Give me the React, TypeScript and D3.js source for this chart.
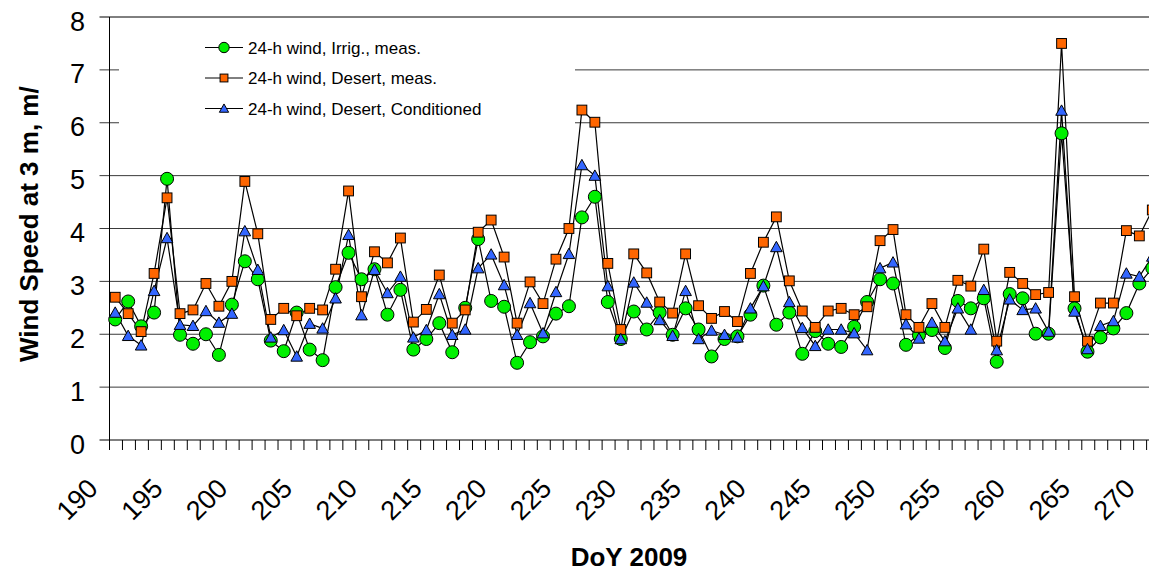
import React from 'react';
import * as d3 from 'd3';

const W = 1149;
const H = 573;

// DoY of the first 24-h value; one value per day
const firstDay = 190;
const pointOffset = 0.44;

const irrigMeas = [
  2.28, 2.62, 2.15, 2.41, 4.94, 1.99, 1.82, 2.0, 1.61, 2.56,
  3.38, 3.04, 1.88, 1.68, 2.41, 1.71, 1.51, 2.89, 3.54, 3.04,
  3.23, 2.37, 2.84, 1.71, 1.91, 2.21, 1.66, 2.5, 3.8, 2.63,
  2.52, 1.46, 1.85, 1.96, 2.39, 2.53, 4.21, 4.6, 2.61, 1.91,
  2.43, 2.09, 2.41, 1.99, 2.49, 2.09, 1.58, 1.91, 1.96, 2.37,
  2.92, 2.18, 2.41, 1.63, 2.06, 1.82, 1.76, 2.14, 2.61, 3.04,
  2.96, 1.8, 1.98, 2.08, 1.74, 2.63, 2.49, 2.68, 1.48, 2.76,
  2.68, 2.01, 2.01, 5.8, 2.49, 1.67, 1.94, 2.11, 2.4, 2.96,
  3.25,
];

const desertMeas = [
  2.7, 2.39, 2.05, 3.15, 4.58, 2.39, 2.46, 2.96, 2.53, 3.0,
  4.89, 3.9, 2.28, 2.49, 2.35, 2.49, 2.46, 3.23, 4.71, 2.71,
  3.56, 3.35, 3.82, 2.23, 2.47, 3.12, 2.21, 2.46, 3.93, 4.16,
  3.46, 2.21, 2.99, 2.58, 3.42, 4.0, 6.24, 6.01, 3.34, 2.09,
  3.52, 3.16, 2.61, 2.4, 3.52, 2.54, 2.3, 2.43, 2.24, 3.15,
  3.74, 4.22, 3.01, 2.44, 2.13, 2.44, 2.49, 2.37, 2.52, 3.77,
  3.98, 2.37, 2.13, 2.58, 2.13, 3.02, 2.91, 3.61, 1.87, 3.17,
  2.96, 2.75, 2.79, 7.5, 2.71, 1.87, 2.59, 2.59, 3.96, 3.86,
  4.35,
];

const desertCond = [
  2.41, 1.97, 1.79, 2.82, 3.82, 2.18, 2.16, 2.44, 2.22, 2.39,
  3.95, 3.22, 1.94, 2.08, 1.58, 2.2, 2.11, 2.68, 3.88, 2.36,
  3.22, 2.78, 3.09, 1.94, 2.08, 2.76, 1.99, 2.09, 3.25, 3.51,
  2.93, 1.99, 2.59, 2.02, 2.8, 3.52, 5.2, 5.0, 2.91, 1.91,
  2.98, 2.6, 2.27, 1.97, 2.82, 1.91, 2.07, 1.99, 1.94, 2.49,
  2.91, 3.65, 2.61, 2.12, 1.78, 2.09, 2.09, 2.02, 1.7, 3.25,
  3.36, 2.19, 1.92, 2.22, 1.87, 2.49, 2.09, 2.84, 1.7, 2.66,
  2.46, 2.49, 2.05, 6.23, 2.43, 1.72, 2.16, 2.25, 3.15, 3.09,
  3.47,
];

const seriesNames = [
  '24-h wind, Irrig., meas.',
  '24-h wind, Desert, meas.',
  '24-h wind, Desert, Conditioned',
];
const seriesColors = ['#00f000', '#ff6600', '#3366ff'];
const seriesShapes = ['circle', 'square', 'triangle'];

const xTickLabels = [190, 195, 200, 205, 210, 215, 220, 225, 230, 235, 240, 245, 250, 255, 260, 265, 270];
const yTickLabels = [0, 1, 2, 3, 4, 5, 6, 7, 8];

const xTitle = 'DoY 2009';
const yTitle = 'Wind Speed at 3 m, m/';

const FONT = 'Arial, "Liberation Sans", Helvetica, sans-serif';

function Marker({ shape, cx, cy, color, scale = 1 }: { shape: string; cx: number; cy: number; color: string; scale?: number }) {
  if (shape === 'circle') {
    return <circle cx={cx} cy={cy} r={6.5 * scale} fill={color} stroke="#000" strokeWidth={1} />;
  }
  if (shape === 'square') {
    const s = 9.8 * scale;
    return <rect x={cx - s / 2} y={cy - s / 2} width={s} height={s} fill={color} stroke="#000" strokeWidth={1} />;
  }
  const hw = 5.8 * scale;
  const top = cy - 5.7 * scale;
  const bot = cy + 4.7 * scale;
  return (
    <path d={`M${cx},${top}L${cx + hw},${bot}L${cx - hw},${bot}Z`} fill={color} stroke="#000" strokeWidth={1} strokeLinejoin="miter" />
  );
}

export default function App() {
  const x = d3.scaleLinear().domain([190, 270]).range([109.5, 1146.6]);
  const y = d3.scaleLinear().domain([0, 8]).range([440, 17]);
  const x0 = x(190);

  const allSeries = [irrigMeas, desertMeas, desertCond];
  const px = (i: number) => x(firstDay + i + pointOffset);
  const line = d3
    .line<number>()
    .x((_, i) => px(i))
    .y((d) => y(d));

  const dayTicks = d3.range(190, 271);

  return (
    <div style={{ position: 'fixed', left: 0, top: 0, width: W, height: H, background: '#fff' }}>
      <svg width={W} height={H} style={{ display: 'block' }} fontFamily={FONT}>
        <rect x={0} y={0} width={W} height={H} fill="#fff" />
        {/* gridlines with outer ticks */}
        {yTickLabels.map((t) => (
          <line key={'g' + t} x1={x0 - 10} x2={W + 10} y1={y(t)} y2={y(t)} stroke={t === 0 || t === 8 ? '#000' : '#3a3a3a'} strokeWidth={1} />
        ))}
        {/* y axis */}
        <line x1={x0} x2={x0} y1={y(8)} y2={y(0)} stroke="#000" strokeWidth={1} />
        {/* x ticks */}
        {dayTicks.map((d) => (
          <line key={'xt' + d} x1={x(d)} x2={x(d)} y1={y(0)} y2={y(0) + 10} stroke="#000" strokeWidth={1} />
        ))}
        {/* y tick labels */}
        {yTickLabels.map((t) => (
          <text key={'yl' + t} x={85} y={y(t) + 13.5} textAnchor="end" fontSize={27} fill="#000">
            {t}
          </text>
        ))}
        {/* x tick labels */}
        {xTickLabels.map((d) => (
          <text
            key={'xl' + d}
            transform={`translate(${x(d) - 10},${490}) rotate(-45)`}
            textAnchor="end"
            fontSize={27}
            fill="#000"
          >
            {d}
          </text>
        ))}
        {/* axis titles */}
        <text x={629} y={566} textAnchor="middle" fontSize={26} fontWeight="bold" fill="#000">
          {xTitle}
        </text>
        <text transform={`translate(38,362) rotate(-90)`} textAnchor="start" fontSize={26} fontWeight="bold" fill="#000">
          {yTitle}
        </text>

        {/* legend box (hides gridlines) */}
        <rect x={119} y={32} width={456} height={98} fill="#fff" />
        {seriesNames.map((name, k) => {
          const ly = [47.5, 78, 108.5][k];
          return (
            <g key={'lg' + k}>
              <line x1={205} x2={243} y1={ly} y2={ly} stroke="#000" strokeWidth={1} />
              <Marker shape={seriesShapes[k]} cx={224} cy={ly} color={seriesColors[k]} scale={0.8} />
              <text x={248} y={ly + 6} fontSize={17} fill="#000">
                {name}
              </text>
            </g>
          );
        })}

        {/* series lines */}
        {allSeries.map((s, k) => (
          <path key={'ln' + k} d={line(s) || ''} fill="none" stroke="#000" strokeWidth={1.2} />
        ))}
        {/* markers */}
        {allSeries.map((s, k) => (
          <g key={'mk' + k}>
            {s.map((v, i) => (
              <Marker key={i} shape={seriesShapes[k]} cx={px(i)} cy={y(v)} color={seriesColors[k]} />
            ))}
          </g>
        ))}
      </svg>
    </div>
  );
}
